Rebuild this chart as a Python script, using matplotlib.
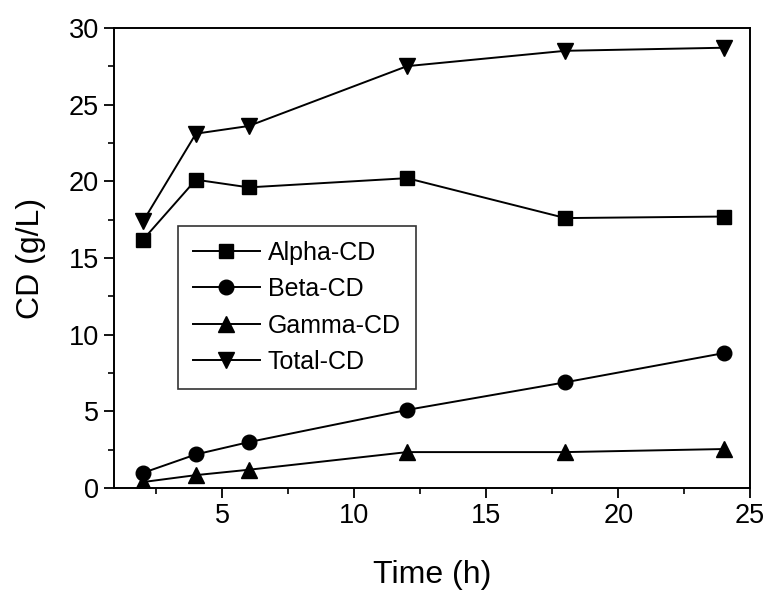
import matplotlib
matplotlib.use("Agg")
import matplotlib.pyplot as plt
from matplotlib.ticker import MultipleLocator

plt.rcParams['font.family'] = ['Liberation Sans', 'DejaVu Sans']

time_h = [2, 4, 6, 12, 18, 24]
alpha_cd = [16.2, 20.1, 19.6, 20.2, 17.6, 17.7]
beta_cd = [1.0, 2.2, 3.0, 5.1, 6.9, 8.8]
gamma_cd = [0.4, 0.85, 1.2, 2.35, 2.35, 2.55]
total_cd = [17.4, 23.1, 23.6, 27.5, 28.5, 28.7]

series = [
    ("Alpha-CD", alpha_cd, "s", 9.5),
    ("Beta-CD", beta_cd, "o", 10.5),
    ("Gamma-CD", gamma_cd, "^", 11),
    ("Total-CD", total_cd, "v", 11),
]

fig = plt.figure(figsize=(7.71, 5.91), dpi=100)
ax = fig.add_axes([0.148, 0.174, 0.825, 0.779])

for name, vals, marker, ms in series:
    ax.plot(time_h, vals, color="black", linewidth=1.4, marker=marker,
            markersize=ms, label=name)

ax.set_xlim(0.9, 25)
ax.set_ylim(0, 30)
ax.xaxis.set_major_locator(MultipleLocator(5))
ax.xaxis.set_minor_locator(MultipleLocator(2.5))
ax.yaxis.set_major_locator(MultipleLocator(5))
ax.yaxis.set_minor_locator(MultipleLocator(2.5))
ax.tick_params(which="major", direction="out", length=7, width=1.3,
               labelsize=19.5, pad=4)
ax.tick_params(which="minor", direction="out", length=4, width=1.2)
for sp in ax.spines.values():
    sp.set_linewidth(1.4)

ax.set_xlabel("Time (h)", fontsize=23, labelpad=22)
ax.set_ylabel("CD (g/L)", fontsize=23, labelpad=16)

leg = ax.legend(loc="upper left", bbox_to_anchor=(0.1, 0.57), fontsize=18,
                frameon=True, fancybox=False, edgecolor="black",
                handlelength=2.7, handletextpad=0.3, borderpad=0.6,
                labelspacing=0.5, borderaxespad=0)
leg.get_frame().set_linewidth(1.2)

fig.savefig("out.png", dpi=100)
